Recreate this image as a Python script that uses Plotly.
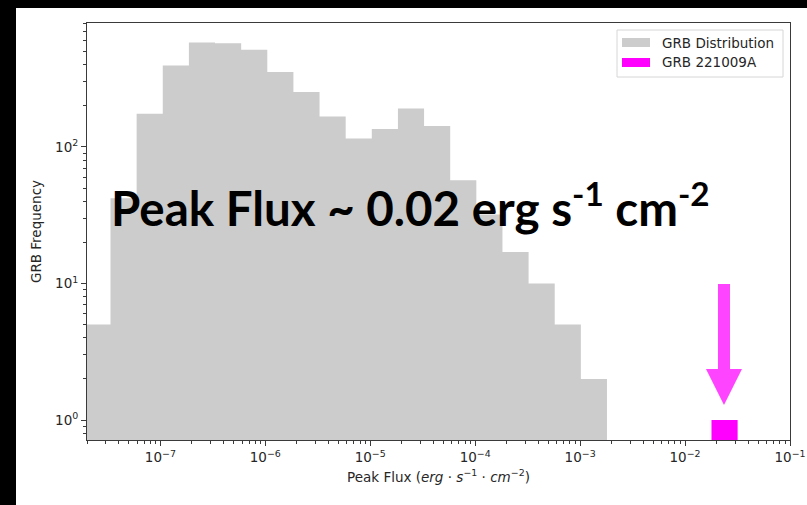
import numpy as np
import plotly.graph_objects as go

# ---- data -------------------------------------------------------------
# GRB peak-flux histogram: log10 bin edges (erg s^-1 cm^-2) and counts
log_bin_edges = [-7.724, -7.475, -7.226, -6.977, -6.728, -6.479, -6.230,
                 -5.981, -5.732, -5.483, -5.234, -4.985, -4.736, -4.487,
                 -4.238, -3.989, -3.740, -3.491, -3.242, -2.993, -2.744]
grb_counts = [5, 42, 175, 395, 580, 573, 515, 353, 252, 167,
              115, 135, 191, 142, 57, 32, 17, 10, 5, 2]

# GRB 221009A: a single burst in its own bin
grb221009a_log_edges = [-1.748, -1.499]
grb221009a_counts = [1]

x_tick_vals = [1e-7, 1e-6, 1e-5, 1e-4, 1e-3, 1e-2, 1e-1]
x_tick_text = ["10<sup>\u22127</sup>", "10<sup>\u22126</sup>", "10<sup>\u22125</sup>",
               "10<sup>\u22124</sup>", "10<sup>\u22123</sup>", "10<sup>\u22122</sup>",
               "10<sup>\u22121</sup>"]
y_tick_vals = [1, 10, 100]
y_tick_text = ["10<sup>0</sup>", "10<sup>1</sup>", "10<sup>2</sup>"]

legend_labels = ["GRB Distribution", "GRB 221009A"]
headline = "Peak Flux ~ 0.02 erg s<sup>-1</sup> cm<sup>-2</sup>"

GRAY = "#cccccc"
MAGENTA = "#ff00ff"
ARROW = "#ff44ff"
FONT = "DejaVu Sans"
TXT = "#262626"

# ---- geometry of the page (pixels) ------------------------------------
W, H = 807, 505
L, R, T, B = 87, 790, 23, 440
PW, PH = R - L, B - T


def px(x):
    return (x - L) / PW


def py(y):
    return (B - y) / PH


def step_outline(log_edges, counts, base=0.3):
    edges = [10 ** e for e in log_edges]
    xs, ys = [edges[0]], [base]
    for i, c in enumerate(counts):
        xs += [edges[i], edges[i + 1]]
        ys += [c, c]
    xs.append(edges[-1])
    ys.append(base)
    return xs, ys


fig = go.Figure()

hx, hy = step_outline(log_bin_edges, grb_counts)
fig.add_trace(go.Scatter(x=hx, y=hy, mode="lines", fill="toself",
                         fillcolor=GRAY, line=dict(width=0, color=GRAY),
                         name=legend_labels[0], showlegend=False,
                         hoverinfo="skip"))

mx, my = step_outline(grb221009a_log_edges, grb221009a_counts)
fig.add_trace(go.Scatter(x=mx, y=my, mode="lines", fill="toself",
                         fillcolor=MAGENTA, line=dict(width=0, color=MAGENTA),
                         name=legend_labels[1], showlegend=False,
                         hoverinfo="skip"))

axis_common = dict(
    type="log", showline=True, mirror=True, linecolor="#3a3a3a", linewidth=1,
    ticks="outside", ticklen=5, tickwidth=1, tickcolor="#3a3a3a",
    showgrid=False, zeroline=False, automargin=False,
    tickfont=dict(family=FONT, size=13.5, color=TXT),
    minor=dict(ticks="outside", ticklen=3, tickwidth=1, tickcolor="#3a3a3a",
               showgrid=False, dtick="D1"),
)

fig.update_xaxes(**axis_common, range=[np.log10(2e-8), -1],
                 tickmode="array", tickvals=x_tick_vals, ticktext=x_tick_text,
                 title=dict(text="Peak Flux (<i>erg</i> \u00b7 <i>s</i><sup>\u22121</sup>"
                                 " \u00b7 <i>cm</i><sup>\u22122</sup>)",
                            font=dict(family=FONT, size=13.5, color=TXT),
                            standoff=8))
fig.update_yaxes(**axis_common, range=[-0.146, 2.907],
                 tickmode="array", tickvals=y_tick_vals, ticktext=y_tick_text,
                 title=dict(text="GRB Frequency",
                            font=dict(family=FONT, size=13.5, color=TXT),
                            standoff=10))

shapes = []
# white figure canvas sitting on the black page
shapes.append(dict(type="rect", xref="paper", yref="paper",
                   x0=px(16), x1=px(W + 2), y0=py(H + 2), y1=py(8),
                   fillcolor="white", line=dict(width=0), layer="below"))

# legend frame and patches
shapes.append(dict(type="rect", xref="paper", yref="paper",
                   x0=px(617), x1=px(783), y0=py(77), y1=py(30),
                   fillcolor="rgba(255,255,255,0.85)",
                   line=dict(color="#d6d6d6", width=1)))
shapes.append(dict(type="rect", xref="paper", yref="paper",
                   x0=px(622), x1=px(650), y0=py(47), y1=py(38),
                   fillcolor=GRAY, line=dict(width=0)))
shapes.append(dict(type="rect", xref="paper", yref="paper",
                   x0=px(622), x1=px(650), y0=py(67), y1=py(58),
                   fillcolor=MAGENTA, line=dict(width=0)))

# arrow pointing down at GRB 221009A
pts = [(718, 284), (730, 284), (730, 369), (742, 369), (724, 405),
       (706, 369), (718, 369)]
path = "M " + " L ".join(f"{px(a):.5f},{py(b):.5f}" for a, b in pts) + " Z"
shapes.append(dict(type="path", xref="paper", yref="paper", path=path,
                   fillcolor=ARROW, line=dict(width=0)))

annotations = [
    dict(text=legend_labels[0], xref="paper", yref="paper", x=px(660), y=py(42.5),
         xanchor="left", yanchor="middle", showarrow=False,
         font=dict(family=FONT, size=13.5, color=TXT)),
    dict(text=legend_labels[1], xref="paper", yref="paper", x=px(660), y=py(62.5),
         xanchor="left", yanchor="middle", showarrow=False,
         font=dict(family=FONT, size=13.5, color=TXT)),
    dict(text=f"<b>{headline}</b>", xref="paper", yref="paper", x=px(109), y=py(204),
         xanchor="left", yanchor="middle", showarrow=False,
         font=dict(family="Lato", size=47.5, color="black")),
]

fig.update_layout(
    width=W, height=H,
    margin=dict(l=L, r=W - R, t=T, b=H - B, pad=0, autoexpand=False),
    paper_bgcolor="black", plot_bgcolor="white",
    shapes=shapes, annotations=annotations, showlegend=False,
)

fig.write_html("out.html")
